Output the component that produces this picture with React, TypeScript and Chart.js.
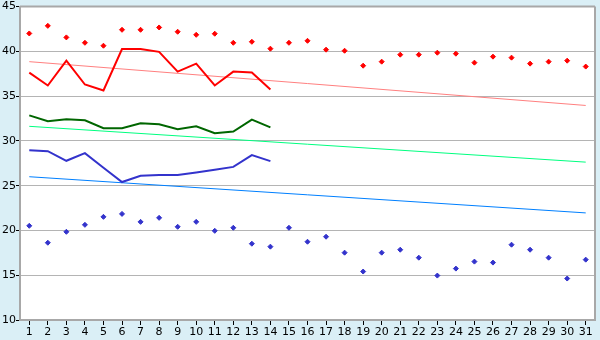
import React, { useEffect, useRef } from "react";
import { Chart, registerables } from "chart.js";

Chart.register(...registerables);

const days = ["1", "2", "3", "4", "5", "6", "7", "8", "9", "10", "11", "12", "13", "14", "15", "16", "17", "18", "19", "20", "21", "22", "23", "24", "25", "26", "27", "28", "29", "30", "31"];

const redMarks = [42.0, 42.85, 41.56, 40.96, 40.63, 42.41, 42.41, 42.67, 42.19, 41.85, 41.97, 40.96, 41.07, 40.3, 40.96, 41.18, 40.19, 40.07, 38.4, 38.85, 39.63, 39.63, 39.85, 39.74, 38.74, 39.41, 39.3, 38.63, 38.85, 38.96, 38.3];
const redLine = [37.63, 36.19, 38.96, 36.3, 35.63, 40.26, 40.26, 39.95, 37.74, 38.63, 36.19, 37.74, 37.63, 35.74];
const greenLine = [32.85, 32.19, 32.41, 32.3, 31.41, 31.41, 31.96, 31.85, 31.3, 31.63, 30.85, 31.04, 32.37, 31.52];
const blueLine = [28.96, 28.85, 27.78, 28.63, 27.0, 25.41, 26.1, 26.2, 26.19, 26.48, 26.78, 27.1, 28.41, 27.74];
const blueMarks = [20.52, 18.63, 19.85, 20.63, 21.52, 21.85, 20.96, 21.41, 20.41, 20.96, 19.96, 20.3, 18.52, 18.19, 20.3, 18.74, 19.3, 17.52, 15.41, 17.52, 17.85, 16.96, 14.96, 15.74, 16.52, 16.41, 18.41, 17.85, 16.96, 14.63, 16.74];
const redTrend = [38.85, 33.96];
const greenTrend = [31.63, 27.63];
const blueTrend = [26.0, 21.96];
const yMin = 10;
const yMax = 45;
const yStep = 5;

const FONT = { family: "DejaVu Sans", size: 11 };

const frame = {
  id: "frame",
  beforeDraw(chart: any) {
    const { ctx, chartArea: a } = chart;
    ctx.save();
    ctx.fillStyle = "#ffffff";
    ctx.fillRect(a.left, a.top, a.right - a.left, a.bottom - a.top);
    ctx.restore();
  },
  afterDraw(chart: any) {
    const { ctx, chartArea: a } = chart;
    ctx.save();
    ctx.strokeStyle = "#a8a8a8";
    ctx.lineWidth = 2;
    ctx.beginPath();
    ctx.moveTo(a.right, a.top);
    ctx.lineTo(a.right, a.bottom);
    ctx.moveTo(a.left, a.top);
    ctx.lineTo(a.right, a.top);
    ctx.stroke();
    ctx.restore();
  },
};

function trendData(v: number[]) {
  return [
    { x: days[0], y: v[0] },
    { x: days[days.length - 1], y: v[1] },
  ];
}

export default function App() {
  const ref = useRef<HTMLCanvasElement>(null);
  useEffect(() => {
    if (!ref.current) return;
    const chart = new Chart(ref.current, {
      type: "line",
      data: {
        labels: days,
        datasets: [
          { data: redMarks, showLine: false, pointStyle: "rectRot", pointRadius: 2.5, pointBackgroundColor: "#ff0000", pointBorderColor: "#ff0000", pointBorderWidth: 1, order: 0 },
          { data: blueMarks, showLine: false, pointStyle: "rectRot", pointRadius: 2.5, pointBackgroundColor: "#3333cc", pointBorderColor: "#3333cc", pointBorderWidth: 1, order: 0 },
          { data: redLine, borderColor: "#ff0000", borderWidth: 2, pointRadius: 0, order: 1 },
          { data: greenLine, borderColor: "#006600", borderWidth: 2, pointRadius: 0, order: 1 },
          { data: blueLine, borderColor: "#3333cc", borderWidth: 2, pointRadius: 0, order: 1 },
          { data: trendData(redTrend) as any, borderColor: "#ff8080", borderWidth: 1, pointRadius: 0, order: 2 },
          { data: trendData(greenTrend) as any, borderColor: "#00ff80", borderWidth: 1, pointRadius: 0, order: 2 },
          { data: trendData(blueTrend) as any, borderColor: "#0080ff", borderWidth: 1, pointRadius: 0, order: 2 },
        ],
      },
      options: {
        responsive: false,
        animation: false,
        layout: { padding: { top: 5, right: 5, left: 0, bottom: 0 } },
        plugins: { legend: { display: false }, tooltip: { enabled: false } },
        elements: { line: { tension: 0 } },
        scales: {
          x: {
            type: "category",
            offset: true,
            grid: { display: true, drawOnChartArea: false, drawTicks: true, tickLength: 5, tickColor: "#000000", offset: false },
            border: { color: "#a8a8a8", width: 2 },
            ticks: { color: "#000000", font: FONT, padding: 1, maxRotation: 0, autoSkip: false },
            afterFit(s: any) { s.height = 20; },
          },
          y: {
            min: yMin,
            max: yMax,
            grid: { color: "#b4b4b4", lineWidth: 1, drawTicks: true, tickLength: 4, tickColor: "#000000" },
            border: { color: "#a8a8a8", width: 2 },
            ticks: { stepSize: yStep, color: "#000000", font: FONT, padding: 0 },
            afterFit(s: any) { s.width = 20; },
          },
        },
      },
      plugins: [frame],
    });
    return () => chart.destroy();
  }, []);
  return (
    <div style={{ position: "absolute", left: 0, top: 0, width: 600, height: 340, background: "#daeff6" }}>
      <canvas ref={ref} width={600} height={340} />
    </div>
  );
}
